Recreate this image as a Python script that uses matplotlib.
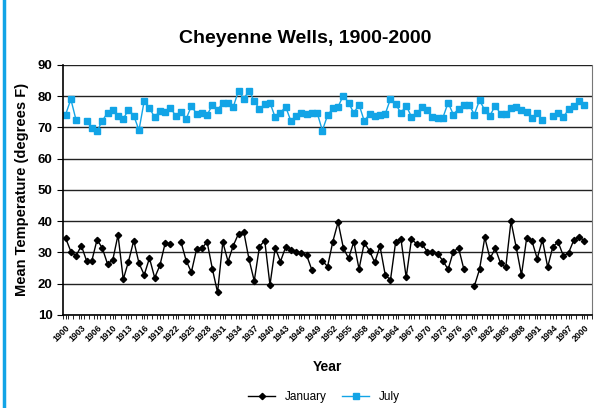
import numpy as np
import matplotlib
matplotlib.use('Agg')
import matplotlib.pyplot as plt
from matplotlib.lines import Line2D

nan = np.nan

# Years on the category axis (one year between 1906 and 1910 is missing in the record)
years = list(range(1900, 1907)) + list(range(1908, 2001))

# Mean January temperature (degrees F)
january = [34.6, 30.3, 28.9, 32.2, 27.3, 27.3, 34.1, 31.4, 26.3, 27.6,
           35.6, 21.4, 27.1, 33.8, 26.6, 22.8, 28.2, 21.9, 25.9, 33.0,
           32.7, nan, 33.5, 27.4, 23.7, 31.1, 31.3, 33.4, 24.8, 17.2,
           33.3, 27.1, 32.2, 36.0, 36.6, 27.8, 20.9, 31.9, 33.8, 19.6,
           31.5, 27.1, 31.7, 30.9, 30.0, 29.8, 29.1, 24.4, nan, 27.3,
           25.5, 33.5, 39.7, 31.5, 28.1, 33.4, 24.7, 33.1, 30.5, 26.8,
           32.0, 22.8, 21.2, 33.5, 34.3, 22.0, 34.2, 32.8, 32.7, 30.3,
           30.3, 29.6, 27.3, 24.6, 30.3, 31.4, 24.7, nan, 19.2, 24.6,
           34.8, 28.1, 31.3, 26.6, 25.2, 40.0, 31.6, 22.8, 34.7, 33.7,
           28.0, 34.1, 25.3, 31.9, 33.3, 28.9, 29.9, 34.0, 34.9, 33.8]

# Mean July temperature (degrees F)
july = [74.1, 79.0, 72.3, nan, 72.1, 69.8, 68.8, 72.1, 74.7, 75.7,
        73.5, 72.7, 75.7, 73.8, 69.1, 78.5, 76.2, 73.2, 75.4, 74.9,
        76.3, 73.7, 74.9, 72.7, 76.8, 74.4, 74.7, 74.0, 77.1, 75.7,
        77.7, 77.9, 76.6, 81.7, 79.1, 81.8, 78.4, 75.8, 77.4, 77.9,
        73.2, 74.7, 76.6, 72.0, 73.5, 74.7, 74.3, 74.5, 74.7, 69.0,
        73.9, 76.1, 76.6, 80.2, 77.9, 74.6, 77.3, 72.0, 74.3, 73.5,
        74.1, 74.3, 79.1, 77.4, 74.6, 77.0, 73.4, 74.5, 76.4, 75.5,
        73.4, 72.9, 73.1, 77.9, 74.1, 76.0, 77.3, 77.3, 74.1, 78.7,
        75.5, 73.8, 77.0, 74.3, 74.3, 76.1, 76.5, 75.6, 75.0, 72.9,
        74.5, 72.3, nan, 73.5, 74.5, 73.3, 75.8, 76.8, 78.3, 77.1]

plt.rcParams['font.family'] = ['Liberation Sans', 'DejaVu Sans']

fig = plt.figure(figsize=(6, 4.08), dpi=100)
ax = fig.add_axes([0.105, 0.228, 0.882, 0.613])

x = np.arange(len(years))
blue = '#12A4E6'

ax.plot(x, january, color='black', lw=1, marker='D', ms=3.2, label='January')
ax.plot(x, july, color=blue, lw=1, marker='s', ms=3.8, label='July')

# Axes and grid
ax.set_ylim(10, 90)
ax.set_yticks(range(10, 91, 10))
ax.set_xlim(-0.5, 100.5)
ax.grid(axis='y', color='#222222', lw=1.0)
ax.set_axisbelow(True)
ax.spines['top'].set_visible(False)
ax.spines['right'].set_color('#777777')
ax.spines['left'].set_lw(1.2)
ax.spines['bottom'].set_lw(1.2)

ax.set_xticks(x[::3])
ax.set_xticklabels([str(y) for y in years[::3]], rotation=45, ha='right', va='top',
                   rotation_mode='anchor', fontsize=6.3, fontweight='bold')
ax.set_xticks(np.arange(-0.5, 101, 1), minor=True)
ax.tick_params(axis='x', which='both', length=3, width=0.6, pad=3)
ax.tick_params(axis='y', length=4, width=0.8, labelsize=9.5)
for lab in ax.get_yticklabels():
    lab.set_fontweight('bold')

fig.suptitle('Cheyenne Wells, 1900-2000', x=0.508, y=0.905, va='center',
             fontsize=14, fontweight='bold')
ax.set_ylabel('Mean Temperature (degrees F)', fontsize=10.5, fontweight='bold', labelpad=6)
ax.set_xlabel('Year', fontsize=10, fontweight='bold', labelpad=12)

# Legend below the plot
fig.legend(loc='center', bbox_to_anchor=(0.54, 0.027), ncol=2, frameon=False,
           fontsize=8.5, handlelength=2.3, columnspacing=1.3)

# Blue frame line at the left edge
fig.add_artist(Line2D([0.007, 0.007], [0, 1], color=blue, lw=2.5))

plt.savefig('out.png', dpi=100)
